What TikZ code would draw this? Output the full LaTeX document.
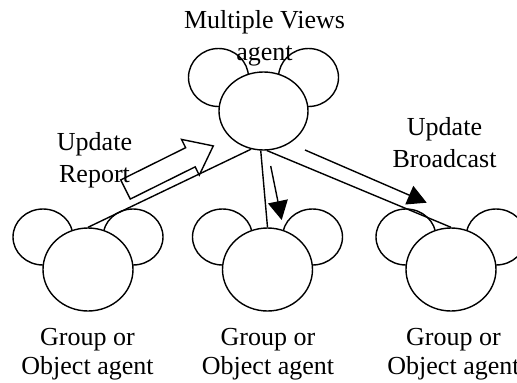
\documentclass[tikz,border=0pt]{standalone}
\usepackage{fontspec}
\setmainfont{Liberation Serif}
\usetikzlibrary{arrows.meta, positioning, shapes.geometric, shapes.arrows, backgrounds}

\begin{document}
\begin{tikzpicture}[
    x=1pt, y=-1pt,
    head/.style={ellipse, draw, line width=1.4pt, fill=white, inner sep=0pt, minimum width=90pt, minimum height=83pt},
    ear/.style={ellipse, draw, line width=1.4pt, fill=white, inner sep=0pt, minimum width=60pt, minimum height=56pt},
    textlabel/.style={align=center, anchor=base, inner sep=0pt, font=\fontsize{26}{32}\selectfont},
    link/.style={line width=1.4pt},
    arrow/.style={-{Triangle[length=19pt, width=20pt]}, line width=1.4pt},
    hollowarrow/.style={single arrow, draw, line width=1.4pt, inner xsep=0pt, inner ysep=10pt, minimum height=98pt, minimum width=38.5pt, single arrow head extend=9.25pt, single arrow tip angle=76}
]
    \useasboundingbox (0,0) rectangle (517,383);

    % --- Multiple Views agent ---
    \node[head, minimum width=89pt, minimum height=78pt] (mv-head) at (263.5,111) {};
    \begin{scope}[on background layer]
        \node[ear, minimum height=58pt] (mv-ear-l) at ([shift={(-45pt,33.5pt)}]mv-head.center) {};
        \node[ear, minimum height=58pt] (mv-ear-r) at ([shift={(45pt,33.5pt)}]mv-head.center) {};
    \end{scope}
    \node[textlabel] (mv-label) at (264.5,60) {Multiple Views\\agent};

    % --- Group or Object agents ---
    \node[head] (g1-head) at (88,269.5) {};
    \node[head] (g2-head) at (267.5,269.5) {};
    \node[head] (g3-head) at (451,269.5) {};
    \begin{scope}[on background layer]
        \node[ear] (g1-ear-l) at ([shift={(-45pt,32.5pt)}]g1-head.center) {};
        \node[ear] (g1-ear-r) at ([shift={(45pt,32.5pt)}]g1-head.center) {};
        \node[ear] (g2-ear-l) at ([shift={(-45pt,32.5pt)}]g2-head.center) {};
        \node[ear] (g2-ear-r) at ([shift={(45pt,32.5pt)}]g2-head.center) {};
        \node[ear] (g3-ear-l) at ([shift={(-45pt,32.5pt)}]g3-head.center) {};
        \node[ear] (g3-ear-r) at ([shift={(45pt,32.5pt)}]g3-head.center) {};
    \end{scope}
    \node[textlabel, font=\fontsize{26}{28.5}\selectfont] (g1-label) at (87.5,374) {Group or\\Object agent};
    \node[textlabel, font=\fontsize{26}{28.5}\selectfont] (g2-label) at (268,374) {Group or\\Object agent};
    \node[textlabel, font=\fontsize{26}{28.5}\selectfont] (g3-label) at (453.5,374) {Group or\\Object agent};

    % --- Update Report / Broadcast ---
    \node[textlabel] (report-label) at (94.5,182) {Update\\Report};
    \node[hollowarrow, rotate=26.4] (report-arrow) at (163.25,170.75) {};
    \node[textlabel] (broadcast-label) at (444.5,167) {Update\\Broadcast};

    \coordinate (down-start) at (270.7,166);
    \coordinate (down-end) at (281.7,220);
    \coordinate (bc-start) at (305,150);
    \coordinate (bc-end) at (426.7,202.7);

    % --- Connections ---
    \draw[link] (mv-head.252) -- (g1-head.north);
    \draw[link] (mv-head.266) -- (g2-head.north);
    \draw[link] (mv-head.275) -- (g3-head.north);

    \draw[arrow] (down-start) -- (down-end);
    \draw[arrow] (bc-start) -- (bc-end);

\end{tikzpicture}
\end{document}
